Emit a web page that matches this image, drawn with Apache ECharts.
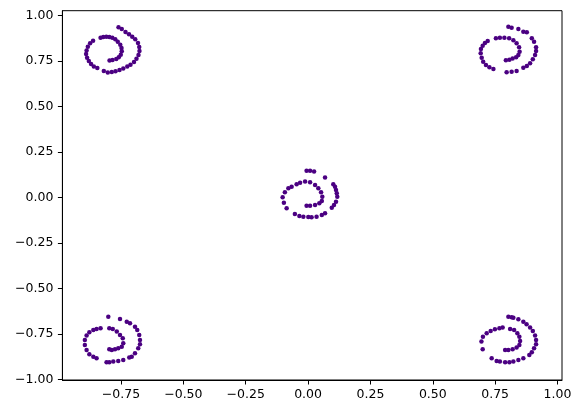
<!DOCTYPE html>
<html>
<head>
<meta charset="utf-8">
<script src="https://cdn.jsdelivr.net/npm/echarts@6/dist/echarts.min.js"></script>
<style>html,body{margin:0;padding:0;background:#fff;}#c{width:578px;height:413px;}</style>
</head>
<body>
<div id="c"></div>
<script>
// Spiral clusters: [x, y] values
const spiralTopLeft = [
  [-0.796,0.752],[-0.784,0.754],[-0.769,0.760],[-0.759,0.769],[-0.751,0.783],[-0.747,0.802],
  [-0.748,0.820],[-0.753,0.838],[-0.763,0.855],[-0.773,0.868],[-0.785,0.877],[-0.797,0.881],
  [-0.809,0.882],[-0.821,0.881],[-0.832,0.877],[-0.862,0.860],[-0.874,0.846],[-0.883,0.827],
  [-0.888,0.807],[-0.890,0.787],[-0.886,0.767],[-0.879,0.749],[-0.870,0.732],[-0.859,0.719],
  [-0.845,0.710],[-0.819,0.694],[-0.803,0.686],[-0.787,0.688],[-0.772,0.692],[-0.756,0.699],
  [-0.741,0.708],[-0.725,0.718],[-0.712,0.728],[-0.698,0.743],[-0.688,0.761],[-0.680,0.782],
  [-0.676,0.804],[-0.677,0.826],[-0.682,0.848],[-0.693,0.868],[-0.705,0.882],[-0.718,0.895],
  [-0.732,0.908],[-0.747,0.925],[-0.760,0.934]
];
const spiralTopRight = [
  [0.803,0.937],[0.816,0.932],[0.843,0.925],[0.863,0.910],[0.877,0.907],[0.897,0.874],
  [0.906,0.855],[0.914,0.824],[0.914,0.804],[0.910,0.782],[0.901,0.758],[0.890,0.736],
  [0.877,0.721],[0.863,0.712],[0.836,0.694],[0.816,0.690],[0.796,0.687],[0.743,0.705],
  [0.727,0.714],[0.713,0.727],[0.702,0.745],[0.696,0.767],[0.692,0.791],[0.693,0.815],
  [0.700,0.833],[0.709,0.848],[0.720,0.859],[0.753,0.874],[0.769,0.877],[0.787,0.877],
  [0.806,0.874],[0.823,0.863],[0.836,0.846],[0.846,0.824],[0.848,0.800],[0.843,0.782],
  [0.834,0.769],[0.820,0.762],[0.807,0.756],[0.793,0.753]
];
const spiralCenter = [
  [-0.006,0.146],[0.008,0.145],[0.024,0.141],[0.068,0.108],[0.101,0.071],[0.108,0.058],
  [0.112,0.040],[0.115,0.022],[0.117,0.003],[0.112,-0.024],[0.104,-0.042],[0.095,-0.057],
  [0.068,-0.088],[0.055,-0.097],[0.034,-0.107],[0.014,-0.110],[0.001,-0.108],[-0.019,-0.107],
  [-0.035,-0.103],[-0.053,-0.092],[-0.086,-0.060],[-0.097,-0.030],[-0.102,0.000],[-0.093,0.027],
  [-0.079,0.049],[-0.066,0.058],[-0.046,0.071],[-0.032,0.080],[-0.012,0.086],[0.008,0.082],
  [0.028,0.068],[0.041,0.049],[0.052,0.027],[0.057,0.003],[0.055,-0.020],[0.045,-0.033],
  [0.028,-0.042],[0.008,-0.046],[-0.006,-0.046]
];
const spiralBottomLeft = [
  [-0.801,-0.656],[-0.754,-0.669],[-0.727,-0.684],[-0.714,-0.692],[-0.694,-0.711],[-0.685,-0.729],
  [-0.677,-0.757],[-0.674,-0.784],[-0.674,-0.808],[-0.681,-0.830],[-0.694,-0.857],[-0.707,-0.876],
  [-0.717,-0.881],[-0.741,-0.894],[-0.761,-0.899],[-0.781,-0.903],[-0.797,-0.907],[-0.808,-0.907],
  [-0.848,-0.885],[-0.861,-0.876],[-0.877,-0.863],[-0.888,-0.839],[-0.895,-0.812],[-0.895,-0.784],
  [-0.888,-0.760],[-0.877,-0.742],[-0.861,-0.729],[-0.848,-0.724],[-0.832,-0.720],[-0.797,-0.720],
  [-0.783,-0.724],[-0.767,-0.738],[-0.754,-0.757],[-0.743,-0.775],[-0.741,-0.802],[-0.747,-0.821],
  [-0.761,-0.830],[-0.774,-0.835],[-0.787,-0.839],[-0.797,-0.835]
];
const spiralBottomRight = [
  [0.803,-0.656],[0.816,-0.659],[0.823,-0.662],[0.843,-0.670],[0.863,-0.684],[0.876,-0.698],
  [0.890,-0.716],[0.901,-0.735],[0.910,-0.760],[0.914,-0.784],[0.914,-0.808],[0.906,-0.830],
  [0.897,-0.852],[0.887,-0.866],[0.863,-0.885],[0.843,-0.894],[0.823,-0.903],[0.807,-0.907],
  [0.790,-0.907],[0.769,-0.903],[0.756,-0.899],[0.736,-0.885],[0.700,-0.835],[0.695,-0.793],
  [0.701,-0.766],[0.716,-0.747],[0.732,-0.735],[0.749,-0.725],[0.767,-0.720],[0.780,-0.716],
  [0.810,-0.724],[0.826,-0.729],[0.839,-0.747],[0.847,-0.766],[0.850,-0.790],[0.847,-0.812],
  [0.836,-0.826],[0.820,-0.835],[0.803,-0.839],[0.790,-0.839]
];
const xTicks = [-0.75,-0.5,-0.25,0,0.25,0.5,0.75,1.0];
const yTicks = [-1.0,-0.75,-0.5,-0.25,0,0.25,0.5,0.75,1.0];

const fmt = v => (v < 0 ? '\u2212' : '') + Math.abs(v).toFixed(2);
const allPoints = [].concat(spiralTopLeft, spiralTopRight, spiralCenter, spiralBottomLeft, spiralBottomRight);

const chart = echarts.init(document.getElementById('c'), null, {renderer: 'canvas'});
const labelStyle = {color: '#000', fontFamily: 'DejaVu Sans', fontSize: 12.5};
chart.setOption({
  animation: false,
  backgroundColor: '#fff',
  grid: {left: 62.4, right: 16, top: 10.7, bottom: 33, show: true, borderColor: '#000', borderWidth: 1, backgroundColor: 'transparent'},
  xAxis: {
    type: 'value', min: -0.985, max: 1.018,
    splitLine: {show: false},
    axisLine: {show: true, onZero: false, lineStyle: {color: '#000', width: 1}},
    axisTick: {show: true, length: 4.5, customValues: xTicks, lineStyle: {color: '#000', width: 1}},
    axisLabel: Object.assign({customValues: xTicks, margin: 8, formatter: fmt}, labelStyle)
  },
  yAxis: {
    type: 'value', min: -1.004, max: 1.025,
    splitLine: {show: false},
    axisLine: {show: true, onZero: false, lineStyle: {color: '#000', width: 1}},
    axisTick: {show: true, length: 4.5, customValues: yTicks, lineStyle: {color: '#000', width: 1}},
    axisLabel: Object.assign({customValues: yTicks, margin: 9, formatter: fmt}, labelStyle)
  },
  series: [{
    type: 'scatter',
    data: allPoints,
    symbol: 'circle',
    symbolSize: 4.5,
    itemStyle: {color: '#4b0082', opacity: 1}
  }]
});
</script>
</body>
</html>
